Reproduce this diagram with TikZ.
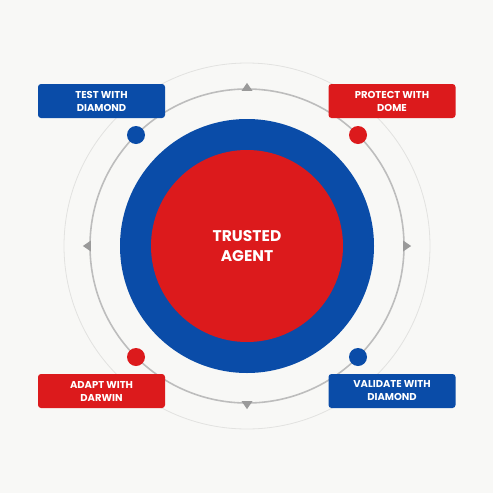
\documentclass[tikz,border=0pt]{standalone}
\usepackage{fontspec}
\setmainfont{Poppins}[BoldFont={* Bold}]
\usetikzlibrary{shapes.geometric}
\definecolor{bg}{HTML}{F8F8F6}
\definecolor{cblue}{HTML}{0A4CA8}
\definecolor{cred}{HTML}{DC1A1C}
\definecolor{ring}{HTML}{BDBDBD}
\definecolor{ringlight}{HTML}{E2E2E0}
\definecolor{arrowgray}{HTML}{9A9A9A}
\tikzset{
  label box/.style={rounded corners=3pt, minimum width=127pt, minimum height=34pt, inner sep=0pt,
    text=white, font=\fontsize{10}{13}\selectfont\bfseries, align=center},
  dotmark/.style={circle, minimum size=18pt, inner sep=0pt},
  tri/.style={fill=arrowgray, isosceles triangle, isosceles triangle stretches, minimum width=11pt, minimum height=8pt, inner sep=0pt}
}
\begin{document}
\begin{tikzpicture}[x=1pt,y=-1pt]
\fill[bg] (0,0) rectangle (493,493);
\useasboundingbox (0,0) rectangle (493,493);
\coordinate (c) at (247,246);
\draw[ringlight, line width=0.8pt] (c) circle[radius=183];
\draw[ring, line width=1.6pt] (c) circle[radius=157];
\fill[cblue] (c) circle[radius=127];
\node[circle, fill=cred, minimum size=192pt, inner sep=0pt, text=white, align=center,
  font=\fontsize{15.5}{20.5}\selectfont\bfseries] (center) at (c) {TRUSTED\\AGENT};
\node[tri, rotate=90] (atop) at (247,88) {};
\node[tri, rotate=-90] (abot) at (247,404) {};
\node[tri, rotate=180] (aleft) at (88,246) {};
\node[tri, rotate=0] (aright) at (406,246) {};
\node[dotmark, fill=cblue] (d1) at (136,135) {};
\node[dotmark, fill=cred] (d2) at (358,135) {};
\node[dotmark, fill=cred] (d3) at (136,357) {};
\node[dotmark, fill=cblue] (d4) at (358,357) {};
\node[label box, fill=cblue] (b1) at (101.5,101) {TEST WITH\\DIAMOND};
\node[label box, fill=cred] (b2) at (392,101) {PROTECT WITH\\DOME};
\node[label box, fill=cred] (b3) at (101.5,391) {ADAPT WITH\\DARWIN};
\node[label box, fill=cblue] (b4) at (392,391) {VALIDATE WITH\\DIAMOND};
\end{tikzpicture}
\end{document}
